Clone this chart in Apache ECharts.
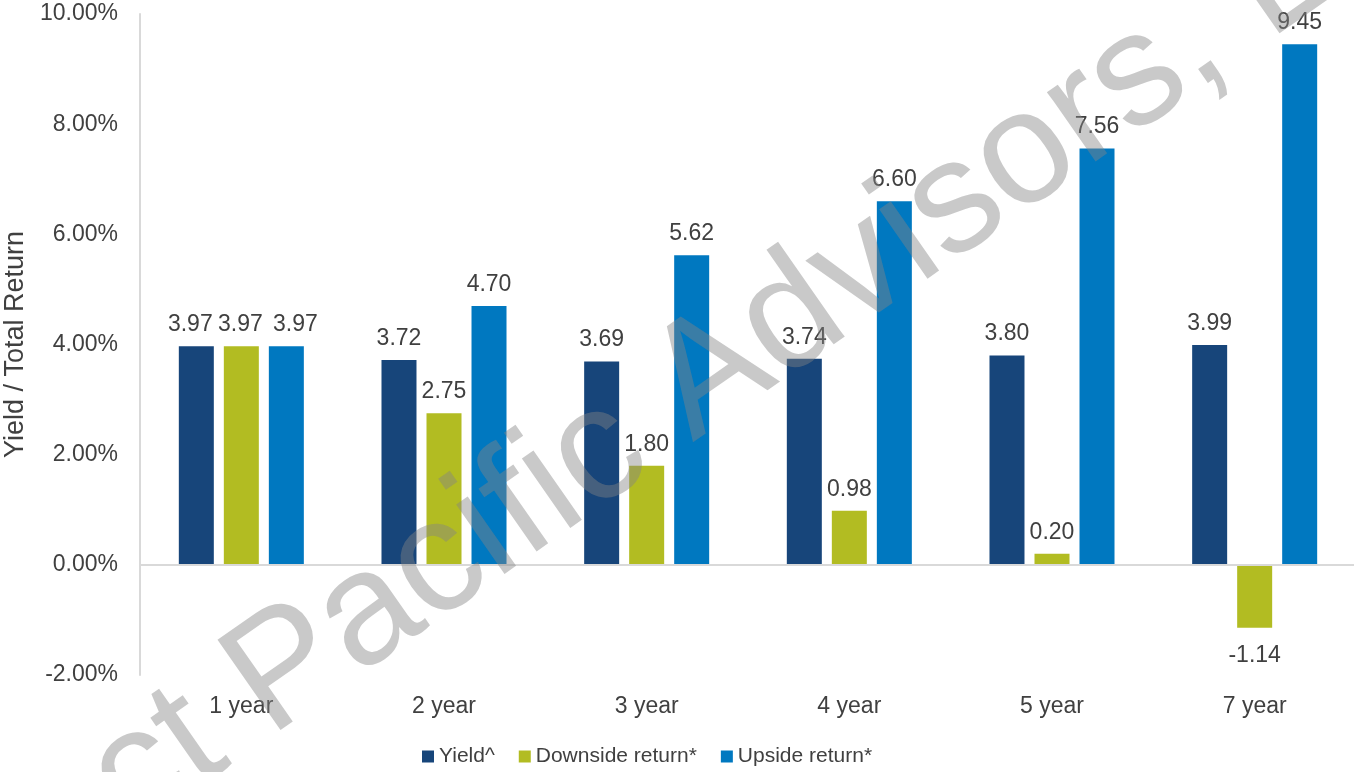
<!DOCTYPE html>
<html>
<head>
<meta charset="utf-8">
<title>Yield / Total Return</title>
<script src="https://cdn.jsdelivr.net/npm/echarts@6/dist/echarts.min.js"></script>
<style>
  html, body { margin: 0; padding: 0; background: #fff; }
  #chart { width: 1354px; height: 772px; }
</style>
</head>
<body>
<div id="chart"></div>
<script>
// Horizons and the three return measures (percent)
const categories = ['1 year', '2 year', '3 year', '4 year', '5 year', '7 year'];
const yieldValues = [3.97, 3.72, 3.69, 3.74, 3.80, 3.99];
const downsideValues = [3.97, 2.75, 1.80, 0.98, 0.20, -1.14];
const upsideValues = [3.97, 4.70, 5.62, 6.60, 7.56, 9.45];
const seriesNames = ['Yield^', 'Downside return*', 'Upside return*'];
const yTicks = { min: -2, max: 10, interval: 2 };

const FONT = '"Liberation Sans", Arial, Helvetica, sans-serif';
const TEXT = '#404040';
const AXIS = '#d9d9d9';
const COLORS = ['#17457A', '#B2BC22', '#0078C0'];

// where the three labels of one horizon collide, spread them apart a little
const crowdNudge = [-6, -1, 9];

function withLabels(values, seriesIndex) {
  return values.map((v, i) => {
    const crowded = yieldValues[i] === downsideValues[i] && downsideValues[i] === upsideValues[i];
    if (v < 0) return { value: v, label: { position: 'bottom', distance: 17 } };
    if (crowded) return { value: v, label: { offset: [crowdNudge[seriesIndex], 0] } };
    return v;
  });
}

function barSeries(idx, values, extra) {
  return Object.assign({
    name: seriesNames[idx],
    type: 'bar',
    data: withLabels(values, idx),
    barWidth: 35,
    barGap: '28.6%',
    itemStyle: { color: COLORS[idx] },
    label: {
      show: true,
      position: 'top',
      distance: 10,
      color: TEXT,
      fontFamily: FONT,
      fontSize: 23,
      formatter: p => Number(p.value).toFixed(2)
    }
  }, extra || {});
}

// watermark text along a rising diagonal; wmOrigin is the baseline start of the text
const wmAngle = 34.9 * Math.PI / 180;
const wmSize = 160;
const wmOrigin = [138, 844];
const up = [-Math.sin(wmAngle), -Math.cos(wmAngle)];
const wmPos = [wmOrigin[0] + 0.35 * wmSize * up[0], wmOrigin[1] + 0.35 * wmSize * up[1]];

const chart = echarts.init(document.getElementById('chart'));
chart.setOption({
  animation: false,
  backgroundColor: '#ffffff',
  textStyle: { fontFamily: FONT },
  grid: { left: 140, top: 14, width: 1216, height: 661, containLabel: false, outerBoundsMode: 'none' },
  legend: {
    data: seriesNames,
    left: 417,
    top: 741,
    icon: 'rect',
    itemWidth: 12,
    itemHeight: 12,
    itemGap: 24,
    textStyle: { color: TEXT, fontFamily: FONT, fontSize: 21 }
  },
  xAxis: {
    type: 'category',
    data: categories,
    axisLine: { show: false, onZero: false },
    axisTick: { show: false },
    axisLabel: { color: TEXT, fontFamily: FONT, fontSize: 23, margin: 20 }
  },
  yAxis: {
    type: 'value',
    min: yTicks.min,
    max: yTicks.max,
    interval: yTicks.interval,
    name: 'Yield / Total Return',
    nameLocation: 'middle',
    nameGap: 110,
    nameTextStyle: { color: TEXT, fontFamily: FONT, fontSize: 27 },
    axisLine: { show: true, lineStyle: { color: AXIS, width: 2 } },
    axisTick: { show: false },
    splitLine: { show: false },
    axisLabel: {
      color: TEXT,
      fontFamily: FONT,
      fontSize: 23,
      margin: 22,
      formatter: v => v.toFixed(2) + '%'
    }
  },
  series: [
    barSeries(0, yieldValues, {
      markLine: {
        silent: true,
        symbol: 'none',
        label: { show: false },
        lineStyle: { color: AXIS, type: 'solid', width: 2 },
        data: [{ yAxis: 0 }]
      }
    }),
    barSeries(1, downsideValues),
    barSeries(2, upsideValues)
  ],
  graphic: [{
    type: 'text',
    x: wmPos[0],
    y: wmPos[1],
    rotation: wmAngle,
    z: 100,
    silent: true,
    style: {
      text: 'ct Pacific Advisors, L',
      font: wmSize + 'px ' + FONT,
      fill: 'rgba(131,131,131,0.44)',
      align: 'left',
      verticalAlign: 'middle'
    }
  }]
});
</script>
</body>
</html>
